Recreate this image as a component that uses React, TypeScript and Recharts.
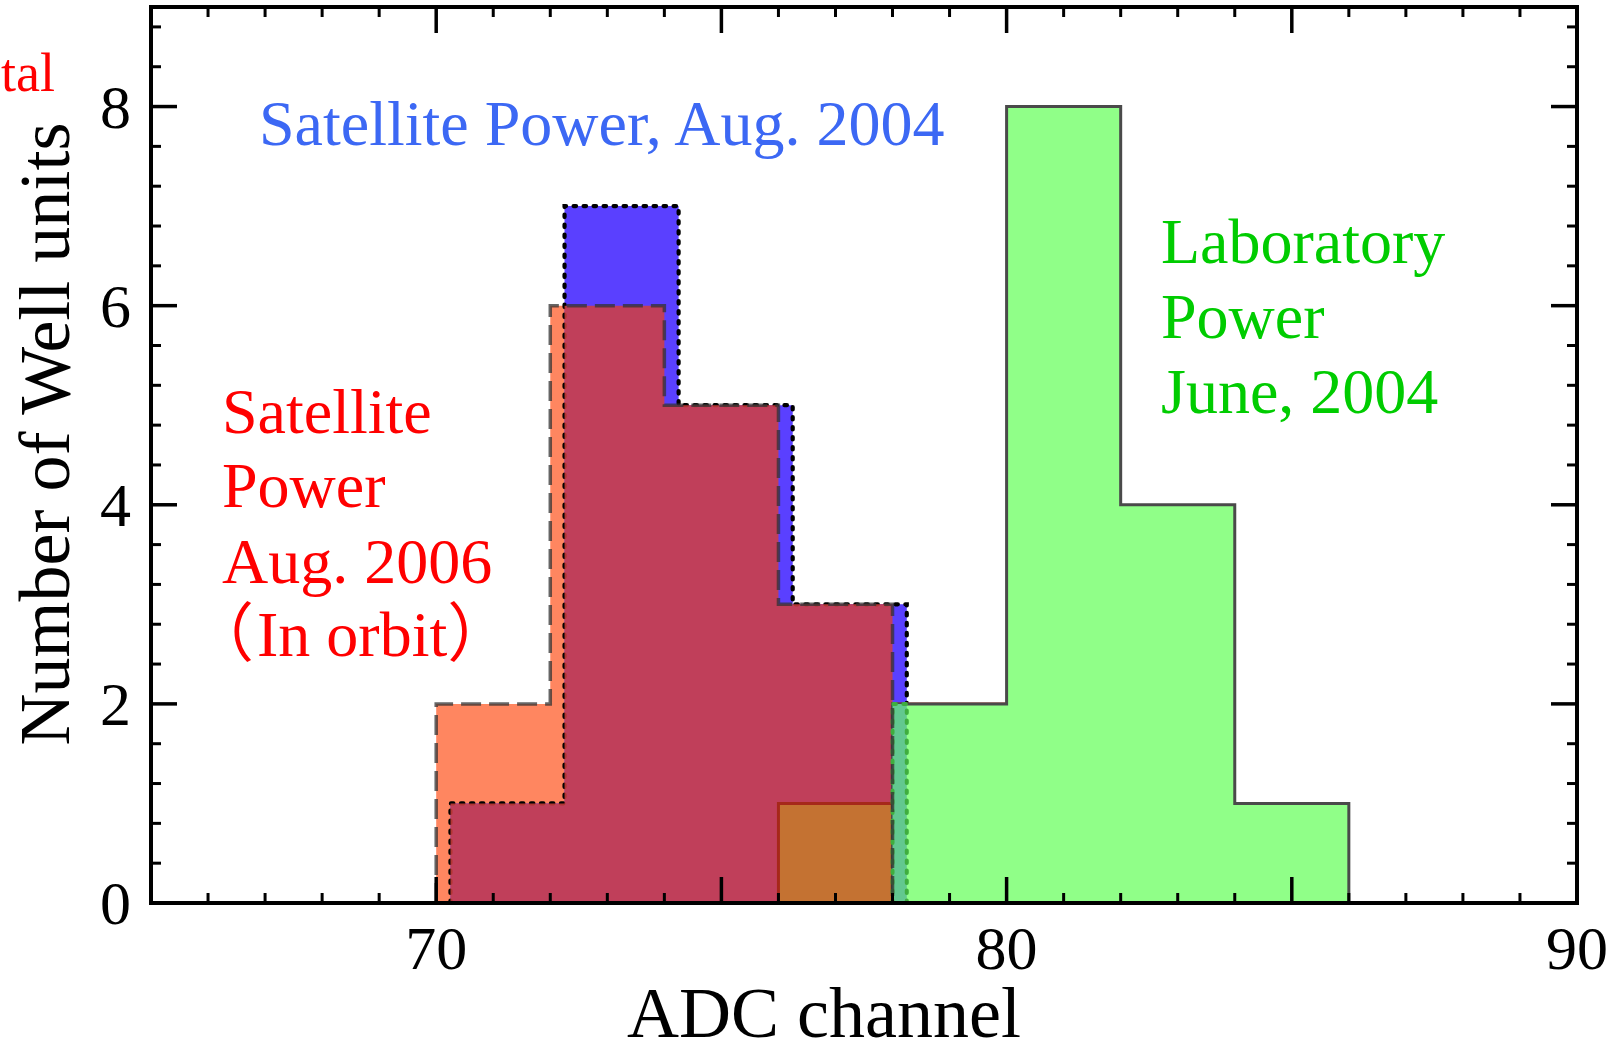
import React from 'react';
import { ComposedChart, Area, XAxis, YAxis } from 'recharts';

// Histograms: bin edges (ADC channel) and counts (number of Well units)
const labEdges = [78, 80, 82, 84, 86];
const labCounts = [2, 8, 4, 1];

const sat2004Edges = [70.25, 72.25, 74.25, 76.25, 78.25];
const sat2004Counts = [1, 7, 5, 3];

const sat2006Edges = [70, 72, 74, 76, 78];
const sat2006Counts = [2, 6, 5, 3];

const orbitEdges = [76, 78, 80];
const orbitCounts = [1, 2];

// Axis ticks
const xTicks = Array.from({ length: 26 }, (_, i) => 65 + i);
const xLabels = [70, 80, 90];
const yTicks = Array.from({ length: 23 }, (_, i) => Math.round(i * 4) / 10);
const yLabels = [0, 2, 4, 6, 8];

const SERIF = '"Liberation Serif", "Times New Roman", "Noto Sans CJK JP", serif';

type Side = 'before' | 'after';

// value of a histogram just before / just after x; null outside its range
const stepAt = (edges: number[], counts: number[], x: number, side: Side): number | null => {
  const first = edges[0];
  const last = edges[edges.length - 1];
  if (x < first || x > last) return null;
  if (side === 'before' && x === first) return 0;
  if (side === 'after' && x === last) return 0;
  for (let i = 0; i < counts.length; i++) {
    const lo = edges[i];
    const hi = edges[i + 1];
    if (side === 'before' ? x > lo && x <= hi : x >= lo && x < hi) return counts[i];
  }
  return 0;
};

const minOf = (a: number | null, b: number | null) => (a == null || b == null ? null : Math.min(a, b));

const breaks = Array.from(new Set([...labEdges, ...sat2004Edges, ...sat2006Edges, ...orbitEdges])).sort((a, b) => a - b);

const rows = breaks.flatMap((x) =>
  (['before', 'after'] as Side[]).map((side) => {
    const lab = stepAt(labEdges, labCounts, x, side);
    const sat2004 = stepAt(sat2004Edges, sat2004Counts, x, side);
    const sat2006 = stepAt(sat2006Edges, sat2006Counts, x, side);
    const orbit = stepAt(orbitEdges, orbitCounts, x, side);
    return {
      x,
      lab,
      sat2004,
      sat2006,
      orbit,
      both: minOf(sat2006, sat2004),
      labSat: minOf(lab, sat2004),
    };
  })
);

const isMajorX = (v: number) => v % 5 === 0;
const isMajorY = (v: number) => Math.abs(v % 2) < 1e-6;

const BottomTick = ({ x, y, payload }: any) => {
  const v = payload.value;
  const major = isMajorX(v);
  return (
    <g>
      <line x1={x} y1={y} x2={x} y2={y - (major ? 26 : 10)} stroke="#000" strokeWidth={major ? 3.5 : 3} />
      {xLabels.includes(v) && (
        <text x={x} y={y + 66} textAnchor="middle" fontSize={62} fontFamily={SERIF} fill="#000">
          {v}
        </text>
      )}
    </g>
  );
};

const TopTick = ({ x, y, payload }: any) => {
  const major = isMajorX(payload.value);
  return <line x1={x} y1={y} x2={x} y2={y + (major ? 26 : 10)} stroke="#000" strokeWidth={major ? 3.5 : 3} />;
};

const LeftTick = ({ x, y, payload }: any) => {
  const v = payload.value;
  const major = isMajorY(v);
  return (
    <g>
      <line x1={x} y1={y} x2={x + (major ? 26 : 10)} y2={y} stroke="#000" strokeWidth={major ? 3.5 : 3} />
      {major && yLabels.includes(Math.round(v)) && (
        <text x={x - 20} y={y + 21} textAnchor="end" fontSize={62} fontFamily={SERIF} fill="#000">
          {Math.round(v)}
        </text>
      )}
    </g>
  );
};

const RightTick = ({ x, y, payload }: any) => {
  const major = isMajorY(payload.value);
  return <line x1={x} y1={y} x2={x - (major ? 26 : 10)} y2={y} stroke="#000" strokeWidth={major ? 3.5 : 3} />;
};

const frame = { stroke: '#000', strokeWidth: 4, strokeLinecap: 'square' as const };

export default function App() {
  return (
    <div style={{ position: 'absolute', left: 0, top: 0, width: 1614, height: 1052, background: '#fff' }}>
      <ComposedChart width={1614} height={1052} data={rows} margin={{ top: 6, right: 36, bottom: 9, left: 0 }}>
        {/* Aug. 2006 fill */}
        <Area xAxisId="b" yAxisId="l" type="linear" dataKey="sat2006" fill="#ff8660" fillOpacity={1} stroke="none" isAnimationActive={false} />
        {/* Aug. 2004 fill with dotted outline */}
        <Area
          xAxisId="b"
          yAxisId="l"
          type="linear"
          dataKey="sat2004"
          fill="#5a40ff"
          fillOpacity={1}
          stroke="#000"
          strokeWidth={4.2}
          strokeDasharray="2.5 7.5"
          strokeLinecap="round"
          isAnimationActive={false}
        />
        {/* where both satellite histograms overlap */}
        <Area xAxisId="b" yAxisId="l" type="linear" dataKey="both" fill="rgb(210,64,61)" fillOpacity={0.85} stroke="none" isAnimationActive={false} />
        <Area
          xAxisId="b"
          yAxisId="l"
          type="linear"
          dataKey="orbit"
          fill="#c47232"
          fillOpacity={1}
          stroke="#a6281a"
          strokeWidth={3}
          isAnimationActive={false}
        />
        {/* laboratory */}
        <Area
          xAxisId="b"
          yAxisId="l"
          type="linear"
          dataKey="lab"
          fill="#90ff88"
          fillOpacity={1}
          stroke="#4a4a4a"
          strokeWidth={3}
          isAnimationActive={false}
        />
        <Area
          xAxisId="b"
          yAxisId="l"
          type="linear"
          dataKey="labSat"
          fill="#62c88f"
          fillOpacity={1}
          stroke="#3fae3f"
          strokeWidth={4}
          strokeDasharray="2.5 7.5"
          strokeLinecap="round"
          isAnimationActive={false}
        />
        {/* Aug. 2006 dashed outline on top */}
        <Area
          xAxisId="b"
          yAxisId="l"
          type="linear"
          dataKey="sat2006"
          fill="none"
          stroke="#333"
          strokeOpacity={0.75}
          strokeWidth={3.5}
          strokeDasharray="20 8"
          isAnimationActive={false}
        />
        {/* invisible series so the mirrored frame axes get drawn */}
        <Area xAxisId="t" yAxisId="r" type="linear" dataKey="lab" fill="none" stroke="none" isAnimationActive={false} />

        <XAxis
          xAxisId="b"
          type="number"
          dataKey="x"
          domain={[65, 90]}
          allowDataOverflow
          ticks={xTicks}
          interval={0}
          height={140}
          tickSize={0}
          tickMargin={0}
          tickLine={false}
          axisLine={frame}
          tick={BottomTick}
        />
        <XAxis
          xAxisId="t"
          orientation="top"
          type="number"
          dataKey="x"
          domain={[65, 90]}
          allowDataOverflow
          ticks={xTicks}
          interval={0}
          height={1}
          tickSize={0}
          tickMargin={0}
          tickLine={false}
          axisLine={frame}
          tick={TopTick}
        />
        <YAxis
          yAxisId="l"
          type="number"
          domain={[0, 9]}
          allowDataOverflow
          ticks={yTicks}
          interval={0}
          width={151}
          tickSize={0}
          tickMargin={0}
          tickLine={false}
          axisLine={frame}
          tick={LeftTick}
        />
        <YAxis
          yAxisId="r"
          orientation="right"
          type="number"
          domain={[0, 9]}
          allowDataOverflow
          ticks={yTicks}
          interval={0}
          width={1}
          tickSize={0}
          tickMargin={0}
          tickLine={false}
          axisLine={frame}
          tick={RightTick}
        />
      </ComposedChart>

      <svg width={1614} height={1052} style={{ position: 'absolute', left: 0, top: 0, pointerEvents: 'none' }}>
        <g fontFamily={SERIF}>
          <text x={1} y={91} fontSize={54} fill="#ff0000">
            tal
          </text>
          <text x={69} y={434} textAnchor="middle" fontSize={72} fill="#000" transform="rotate(-90 69 434)">
            Number of Well units
          </text>
          <text x={824} y={1037} textAnchor="middle" fontSize={72} fill="#000">
            ADC channel
          </text>
          <text x={259} y={145} fontSize={64} fill="#3c68f4">
            Satellite Power, Aug. 2004
          </text>
          <g fontSize={64} fill="#00cc00">
            <text x={1161} y={263}>Laboratory</text>
            <text x={1161} y={338}>Power</text>
            <text x={1161} y={413}>June, 2004</text>
          </g>
          <g fontSize={64} fill="#ff0000">
            <text x={222} y={433}>Satellite</text>
            <text x={222} y={507}>Power</text>
            <text x={222} y={583}>Aug. 2006</text>
            <text x={190} y={656}>
              <tspan>（</tspan>
              <tspan dx={3}>In orbit</tspan>
              <tspan>）</tspan>
            </text>
          </g>
        </g>
      </svg>
    </div>
  );
}
